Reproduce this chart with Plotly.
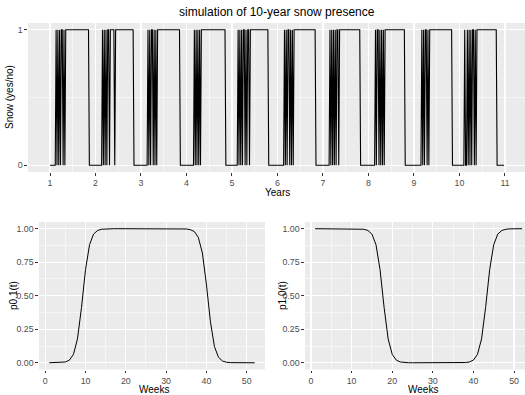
import plotly.graph_objects as go

# ---- data ----
# weekly snow state (1 = snow, 0 = none), one 52-week string per simulated year
snow_year_strings = [
    "00000 00" + "10101 01101 011" + "11111 11111 11111 11111 11111" + "00000 00",
    "00000 000" + "10101 01101 1" + "111" + "0" + "11111 11111 11111 11111 1" + "00000 000",
    "00000 000" + "10101 10101 01" + "11111 11111 11111 11111 11111" + "00000 00",
    "00000 0000" + "10101 01011" + "11111 11111 11111 11111 11111 1" + "00000 00",
    "00000 00" + "10101 01101 01" + "1" + "0" + "11111 11111 11111 11111 1" + "00000 00000",
    "00000 000" + "10101 10101 01" + "11111 11111 11111 11111 1111" + "00000 000",
    "00000 000" + "10101 01011 01" + "11111 11111 11111 11111 111" + "00000 0000",
    "00000 000" + "10110 10101 01" + "11111 11111 11111 11111 11" + "00000 00000",
    "00000 0000" + "10101 10101" + "11111 11111 11111 11111 11111" + "00000 000",
    "00000 0" + "1" + "00" + "10101 01101 01" + "11111 11111 11111 11111 11" + "00000 0000",
]
years_ticks = list(range(1, 12))

weeks = list(range(1, 53))
p01 = [0.0001, 0.0002, 0.0006, 0.002, 0.006, 0.020, 0.063, 0.178, 0.413, 0.695,
       0.881, 0.960, 0.987, 0.996, 0.9988, 0.9996, 1.0, 1.0, 1.0, 1.0,
       1.0, 1.0, 1.0, 1.0, 1.0, 1.0, 1.0, 1.0, 1.0, 1.0,
       1.0, 1.0, 1.0, 0.9993, 0.998, 0.993, 0.979, 0.935, 0.819, 0.587,
       0.307, 0.121, 0.041, 0.013, 0.004, 0.0013, 0.0004, 0.0001, 0.0, 0.0,
       0.0, 0.0]
p10 = [1.0, 1.0, 1.0, 1.0, 1.0, 1.0, 1.0, 1.0, 1.0, 0.9998,
       0.9996, 0.9988, 0.996, 0.987, 0.960, 0.881, 0.695, 0.413, 0.178, 0.063,
       0.020, 0.006, 0.002, 0.0006, 0.0002, 0.0, 0.0, 0.0, 0.0, 0.0,
       0.0, 0.0, 0.0, 0.0, 0.0, 0.0, 0.0006, 0.002, 0.006, 0.020,
       0.063, 0.178, 0.413, 0.695, 0.881, 0.960, 0.987, 0.996, 0.9988, 0.9996,
       0.9999, 1.0]

# ---- build series ----
snow = []
for s in snow_year_strings:
    s = s.replace(" ", "")
    if len(s) != 52:
        raise ValueError("bad year length %d" % len(s))
    snow.extend(int(c) for c in s)
snow_x = [1 + i / 52 for i in range(len(snow))]

W, H = 525, 395
def px(x):
    return x / W
def py(y):
    return 1 - y / H

TICKC = "#4D4D4D"
FONT = "Liberation Sans, Arial, sans-serif"

fig = go.Figure()
fig.add_trace(go.Scatter(x=snow_x, y=snow, mode="lines",
                         line=dict(color="black", width=1.1),
                         xaxis="x", yaxis="y", showlegend=False))
fig.add_trace(go.Scatter(x=weeks, y=p01, mode="lines",
                         line=dict(color="black", width=1),
                         xaxis="x2", yaxis="y2", showlegend=False))
fig.add_trace(go.Scatter(x=weeks, y=p10, mode="lines",
                         line=dict(color="black", width=1),
                         xaxis="x3", yaxis="y3", showlegend=False))

common = dict(showline=False, zeroline=False, ticks="outside", ticklen=2.7,
              tickwidth=1, tickcolor="#333333", gridcolor="white", gridwidth=1.1,
              automargin=False,
              tickfont=dict(size=8.8, color=TICKC, family=FONT))

fig.update_layout(
    width=W, height=H,
    margin=dict(l=0, r=0, t=0, b=0, autoexpand=False),
    paper_bgcolor="white", plot_bgcolor="#EBEBEB",
    font=dict(family=FONT, color="black"),
    xaxis=dict(domain=[px(28), 1], anchor="y", range=[0.5165, 11.44],
               tickvals=years_ticks,
               minor=dict(tickvals=[v + 0.5 for v in years_ticks[:-1]],
                          gridcolor="white", gridwidth=0.5, ticks=""),
               **common),
    yaxis=dict(domain=[py(172), py(23)], anchor="x", range=[-0.05, 1.05],
               tickvals=[0, 1], ticktext=["0", "1"],
               minor=dict(tickvals=[0.5], gridcolor="white", gridwidth=0.5, ticks=""),
               **common),
    xaxis2=dict(domain=[px(39), px(265)], anchor="y2", range=[-1.55, 54.55],
                tickvals=[0, 10, 20, 30, 40, 50],
                minor=dict(tickvals=[5, 15, 25, 35, 45],
                           gridcolor="white", gridwidth=0.5, ticks=""),
                **common),
    yaxis2=dict(domain=[py(369.5), py(222)], anchor="x2", range=[-0.05, 1.05],
                tickvals=[0, 0.25, 0.5, 0.75, 1.0],
                ticktext=["0.00", "0.25", "0.50", "0.75", "1.00"],
                minor=dict(tickvals=[0.125, 0.375, 0.625, 0.875],
                           gridcolor="white", gridwidth=0.5, ticks=""),
                **common),
    xaxis3=dict(domain=[px(305), 1], anchor="y3", range=[-1.48, 52.7],
                tickvals=[0, 10, 20, 30, 40, 50],
                minor=dict(tickvals=[5, 15, 25, 35, 45],
                           gridcolor="white", gridwidth=0.5, ticks=""),
                **common),
    yaxis3=dict(domain=[py(369.5), py(222)], anchor="x3", range=[-0.05, 1.05],
                tickvals=[0, 0.25, 0.5, 0.75, 1.0],
                ticktext=["0.00", "0.25", "0.50", "0.75", "1.00"],
                minor=dict(tickvals=[0.125, 0.375, 0.625, 0.875],
                           gridcolor="white", gridwidth=0.5, ticks=""),
                **common),
)

def label(text, x, y, size=10, angle=0):
    fig.add_annotation(text=text, x=px(x), y=py(y), xref="paper", yref="paper",
                       showarrow=False, textangle=angle, borderpad=0,
                       font=dict(size=size, color="black", family=FONT),
                       xanchor="center", yanchor="middle")

label("simulation of 10-year snow presence", 277, 12, size=12)
label("Years", 277, 193)
label("Snow (yes/no)", 10, 97, angle=-90)
label("Weeks", 154, 389.5)
label("p0.1(t)", 13, 296, angle=-90)
label("Weeks", 423, 389.5)
label("p1.0(t)", 282, 296, angle=-90)

fig.write_html("out.html",
               config={"displayModeBar": False, "staticPlot": True},
               post_script="document.body.style.margin='0';document.body.style.overflow='hidden';")
